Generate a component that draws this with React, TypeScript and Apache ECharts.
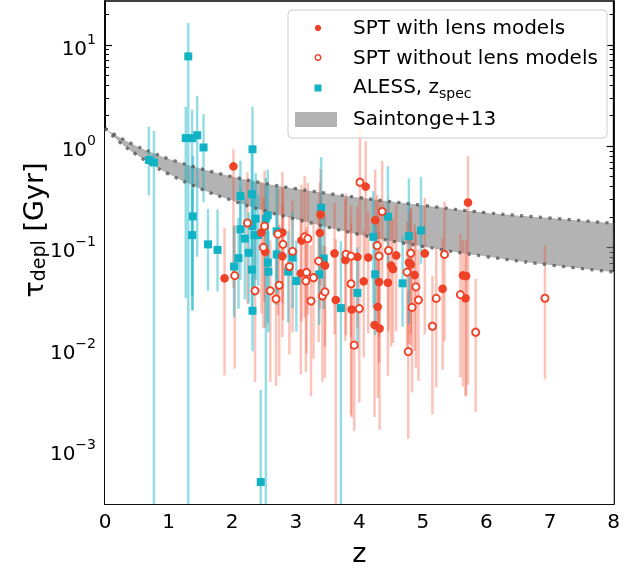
import React, { useEffect, useRef } from "react";
import * as echarts from "echarts";

// ---- Data (redshift z, depletion time tau in Gyr, error bars in dex) ----
const sptLensZ = [2.02, 2.46, 2.52, 2.79, 2.79, 3.09, 3.39, 3.38, 3.08, 1.88, 4.10, 4.25, 3.61, 3.78, 3.97, 4.14, 4.58, 5.03, 3.46, 3.63, 3.88, 4.07, 4.31, 4.45, 4.50, 4.53, 4.78, 4.81, 4.87, 4.29, 4.24, 4.32, 5.71, 5.31, 5.63, 5.68, 5.67];
const sptLensTau = [0.631, 0.140, 0.0902, 0.140, 0.0818, 0.117, 0.211, 0.139, 0.0553, 0.0494, 0.398, 0.185, 0.0871, 0.075, 0.0805, 0.0794, 0.0832, 0.0871, 0.0661, 0.0302, 0.0243, 0.0461, 0.0454, 0.0447, 0.0661, 0.061, 0.0708, 0.0676, 0.0532, 0.0258, 0.0171, 0.0158, 0.277, 0.0389, 0.0528, 0.052, 0.0314];
const sptLensUpDex = [0.17, 0.5, 0.45, 0.6, 0.5, 0.55, 0.45, 0.5, 0.55, 0.5, 0.45, 0.5, 0.5, 0.6, 0.5, 0.45, 0.5, 0.55, 0.5, 0.6, 0.55, 0.5, 0.5, 0.45, 0.5, 0.5, 0.5, 0.55, 0.5, 0.5, 0.5, 0.5, 0.46, 0.5, 0.35, 0.35, 0.45];
const sptLensDownDex = [1.2, 0.8, 0.75, 0.7, 0.8, 0.8, 0.7, 0.75, 1.0, 0.96, 0.7, 0.6, 0.8, 0.8, 0.7, 0.75, 0.75, 0.8, 0.8, 3, 1.07, 0.75, 0.8, 0.92, 0.8, 0.73, 0.8, 0.8, 0.75, 0.9, 0.91, 1.0, 1.8, 0.8, 1.1, 1.18, 0.97];

const sptNoLensZ = [2.24, 2.51, 2.49, 2.72, 2.80, 2.95, 3.14, 3.19, 3.36, 2.90, 3.17, 3.16, 3.28, 2.04, 2.36, 2.60, 2.74, 2.69, 3.24, 3.42, 3.46, 4.01, 4.36, 3.79, 3.87, 4.28, 4.31, 4.46, 4.81, 5.34, 4.75, 4.89, 4.93, 4.83, 4.00, 3.87, 3.92, 4.77, 5.15, 5.21, 5.59, 5.83, 6.92];
const sptNoLensTau = [0.174, 0.162, 0.100, 0.135, 0.107, 0.0912, 0.127, 0.122, 0.0731, 0.0646, 0.0565, 0.0465, 0.0501, 0.0525, 0.0372, 0.0372, 0.0422, 0.0309, 0.0295, 0.0331, 0.0363, 0.44, 0.226, 0.0855, 0.0818, 0.104, 0.0818, 0.0931, 0.0875, 0.0851, 0.0569, 0.0407, 0.0302, 0.0255, 0.0248, 0.0437, 0.0108, 0.00933, 0.0166, 0.0313, 0.0341, 0.0145, 0.0314];
const sptNoLensUpDex = [0.5, 0.55, 0.5, 0.45, 0.55, 0.5, 0.6, 0.55, 0.5, 0.5, 0.45, 0.5, 0.55, 0.5, 0.55, 0.5, 0.6, 0.5, 0.55, 0.5, 0.45, 0.57, 0.5, 0.6, 0.5, 0.5, 0.55, 0.5, 0.45, 0.52, 0.5, 0.55, 0.5, 0.5, 0.5, 0.6, 0.6, 0.6, 0.5, 0.5, 0.6, 0.53, 0.52];
const sptNoLensDownDex = [0.8, 0.75, 0.8, 0.8, 0.75, 0.8, 0.8, 0.75, 0.8, 0.87, 0.8, 0.9, 0.8, 0.92, 0.9, 0.9, 0.9, 0.86, 0.94, 0.85, 0.85, 0.7, 0.7, 0.8, 0.8, 0.8, 0.8, 0.8, 0.8, 0.86, 0.8, 0.8, 0.8, 0.84, 0.93, 1.3, 0.85, 0.86, 0.87, 0.88, 0.82, 0.79, 0.8];

const alessZ = [0.69, 0.77, 1.31, 1.27, 1.37, 1.45, 1.55, 2.32, 1.38, 1.37, 1.62, 1.77, 2.13, 2.31, 2.37, 2.53, 2.56, 2.13, 2.20, 2.32, 2.35, 2.41, 2.70, 2.10, 2.26, 2.03, 2.31, 2.56, 2.57, 2.70, 2.88, 2.95, 3.01, 3.37, 3.40, 2.32, 3.44, 4.45, 4.22, 4.78, 4.97, 3.71, 3.97, 4.25, 4.68, 2.45];
const alessTau = [0.73, 0.69, 7.7, 1.2, 1.2, 1.28, 0.97, 0.93, 0.202, 0.132, 0.107, 0.0944, 0.321, 0.335, 0.192, 0.192, 0.207, 0.151, 0.122, 0.163, 0.132, 0.132, 0.144, 0.0782, 0.0883, 0.0646, 0.0603, 0.0708, 0.0575, 0.0851, 0.0575, 0.0794, 0.0465, 0.0541, 0.246, 0.0236, 0.0776, 0.201, 0.127, 0.129, 0.147, 0.0251, 0.0355, 0.0541, 0.0441, 0.00048];
const alessUpDex = [0.33, 0.31, 0.33, 0.31, 0.28, 0.39, 0.33, 0.42, 0.6, 0.45, 0.35, 0.4, 0.35, 0.4, 0.45, 0.4, 0.45, 0.4, 0.4, 0.45, 0.4, 0.4, 0.45, 0.4, 0.4, 0.4, 0.4, 0.4, 0.4, 0.4, 0.4, 0.45, 0.4, 0.4, 0.5, 0.4, 0.45, 0.5, 0.45, 0.57, 0.53, 0.66, 0.45, 0.5, 0.46, 0.91];
const alessDownDex = [0.35, 5, 5, 1.58, 1.7, 1.2, 0.54, 0.7, 0.93, 0.6, 0.46, 0.41, 0.6, 0.6, 0.6, 5, 0.6, 0.5, 0.6, 0.6, 0.6, 0.5, 0.6, 0.5, 0.5, 0.5, 0.4, 0.6, 0.6, 0.5, 0.5, 0.5, 0.5, 0.5, 0.7, 0.4, 0.5, 0.5, 0.7, 0.87, 0.33, 5, 0.5, 0.6, 0.43, 5];

// Saintonge+13 band (tau in Gyr) read at these redshifts
const bandZ = [0, 0.25, 0.5, 0.75, 1, 1.5, 2, 2.5, 3, 4, 5, 6, 7, 8];
const bandUpper = [1.5, 1.2, 1.0, 0.86, 0.75, 0.6, 0.5, 0.43, 0.38, 0.31, 0.26, 0.22, 0.195, 0.173];
const bandLower = [1.5, 1.07, 0.82, 0.65, 0.53, 0.38, 0.29, 0.23, 0.19, 0.134, 0.102, 0.081, 0.067, 0.057];

// Axis ticks
const xTicks = [0, 1, 2, 3, 4, 5, 6, 7, 8];
const yDecades = [-3, -2, -1, 0, 1];
const Y_MIN = -3.536;
const Y_MAX = 1.434;

const FONT = "DejaVu Sans, sans-serif";
const RED = "#EF4226";
const CYAN = "#12B2C5";

export default function App() {
  const ref = useRef<HTMLDivElement>(null);
  useEffect(() => {
    const chart = echarts.init(ref.current!, null, { renderer: "svg" });
    const lg = Math.log10;
    const pts = (zs: number[], ts: number[]) => zs.map((z, i) => [z, lg(ts[i])]);
    const bars = (zs: number[], ts: number[], up: number[], dn: number[]) =>
      zs.map((z, i) => [z, Math.max(lg(ts[i]) - dn[i], Y_MIN), Math.min(lg(ts[i]) + up[i], Y_MAX)]);
    const minorVals: number[] = [];
    for (let n = -4; n <= 1; n++)
      for (let k = 2; k <= 9; k++) {
        const v = n + Math.log10(k);
        if (v > Y_MIN && v < Y_MAX) minorVals.push(v);
      }
    const errSeries = (data: number[][], color: string) => ({
      type: "custom",
      data,
      silent: true,
      z: 3,
      encode: { x: 0, y: [1, 2] },
      renderItem: (_p: any, api: any) => {
        const a = api.coord([api.value(0), api.value(1)]);
        const b = api.coord([api.value(0), api.value(2)]);
        return {
          type: "line",
          shape: { x1: a[0], y1: a[1], x2: b[0], y2: b[1] },
          style: { stroke: color, lineWidth: 2.5 },
        };
      },
    });
    const tickStyle = { color: "#000", width: 1.2 };
    const yBase = { type: "value", min: Y_MIN, max: Y_MAX, splitLine: { show: false } };
    const lowerBand = bandZ.map((z, i) => [z, lg(bandLower[i])]);
    const upperBand = bandZ.map((z, i) => [z, lg(bandUpper[i])]);
    const sup = (n: number) => (n < 0 ? "\u2212" + -n : String(n));
    const dotted = { color: "rgba(80,80,80,0.75)", width: 3.2, type: [3.2, 6.3] };

    const legendX = 353;
    chart.setOption({
      animation: false,
      grid: { left: 105, right: 5, top: 1, bottom: 64, show: true, borderColor: "#000", borderWidth: 1.6, backgroundColor: "transparent" },
      xAxis: {
        type: "value", min: 0, max: 8, interval: 1,
        axisLine: { onZero: false, lineStyle: { color: "#000", width: 1.6 } },
        axisTick: { inside: true, length: 7, lineStyle: tickStyle, customValues: xTicks },
        axisLabel: { fontSize: 20, color: "#000", fontFamily: FONT, margin: 7, customValues: xTicks },
        splitLine: { show: false },
        name: "z", nameLocation: "middle", nameGap: 35,
        nameTextStyle: { fontSize: 27, fontFamily: FONT, color: "#000" },
      },
      yAxis: [
        {
          ...yBase, position: "left",
          axisLine: { show: true, onZero: false, lineStyle: { color: "#000", width: 1.6 } },
          axisTick: { show: true, inside: true, length: 7, lineStyle: tickStyle, customValues: yDecades },
          axisLabel: {
            customValues: yDecades, margin: 9,
            formatter: (v: number) => `{b|10}{s|${sup(Math.round(v))}}`,
            rich: {
              b: { fontSize: 20, fontFamily: FONT, color: "#000", lineHeight: 26, verticalAlign: "bottom" },
              s: { fontSize: 14, fontFamily: FONT, color: "#000", lineHeight: 14, verticalAlign: "top" },
            },
          },
        },
        {
          ...yBase, position: "left",
          axisLine: { show: false, onZero: false },
          axisTick: { show: true, inside: true, length: 4, lineStyle: { color: "#000", width: 1 }, customValues: minorVals },
          axisLabel: { show: false },
        },
        {
          ...yBase, position: "right",
          axisLine: { show: true, onZero: false, lineStyle: { color: "#000", width: 1.6 } },
          axisTick: { show: true, inside: true, length: 7, lineStyle: tickStyle, customValues: yDecades },
          axisLabel: { show: false },
        },
        {
          ...yBase, position: "right",
          axisLine: { show: false, onZero: false },
          axisTick: { show: true, inside: true, length: 4, lineStyle: { color: "#000", width: 1 }, customValues: minorVals },
          axisLabel: { show: false },
        },
      ],
      series: [
        // band: grey fill below the upper edge, then white fill below the lower edge
        {
          type: "line", name: "Saintonge+13", data: upperBand, smooth: true, symbol: "none", silent: true, z: 1,
          lineStyle: { opacity: 0 }, areaStyle: { color: "rgba(128,128,128,0.6)", opacity: 1, origin: "start" },
        },
        {
          type: "line", data: lowerBand, smooth: true, symbol: "none", silent: true, z: 1.5,
          lineStyle: { opacity: 0 }, areaStyle: { color: "#ffffff", opacity: 1, origin: "start" },
        },
        errSeries(bars(sptLensZ, sptLensTau, sptLensUpDex, sptLensDownDex), "rgba(240,70,45,0.32)"),
        errSeries(bars(sptNoLensZ, sptNoLensTau, sptNoLensUpDex, sptNoLensDownDex), "rgba(240,70,45,0.32)"),
        errSeries(bars(alessZ, alessTau, alessUpDex, alessDownDex), "rgba(20,180,200,0.45)"),
        { type: "line", data: upperBand, smooth: true, symbol: "none", silent: true, z: 4, lineStyle: dotted },
        { type: "line", data: lowerBand, smooth: true, symbol: "none", silent: true, z: 4, lineStyle: dotted },
        {
          type: "scatter", name: "ALESS, z_spec", data: pts(alessZ, alessTau), symbol: "rect", symbolSize: 8, z: 5,
          itemStyle: { color: CYAN, opacity: 1 },
        },
        {
          type: "scatter", name: "SPT with lens models", data: pts(sptLensZ, sptLensTau), symbol: "circle", symbolSize: 8.6, z: 6,
          itemStyle: { color: RED, opacity: 1 },
        },
        {
          type: "scatter", name: "SPT without lens models", data: pts(sptNoLensZ, sptNoLensTau), symbol: "circle", symbolSize: 7.2, z: 7,
          itemStyle: { color: "#fff", borderColor: RED, borderWidth: 1.9, opacity: 1 },
        },
      ],
      graphic: [
        {
          type: "text", x: 31, y: 230, rotation: Math.PI / 2, z: 100,
          style: {
            text: "{t|\u03c4}{d|depl}{t| [Gyr]}",
            align: "center", verticalAlign: "middle",
            rich: {
              t: { fontSize: 27, fontFamily: FONT, fill: "#000", lineHeight: 32, verticalAlign: "bottom" },
              d: { fontSize: 19, fontFamily: FONT, fill: "#000", lineHeight: 17, verticalAlign: "bottom" },
            },
          },
        },
        {
          type: "group", z: 100,
          children: [
            { type: "rect", z: 100, shape: { x: 288, y: 10, width: 319, height: 128, r: 4 }, style: { fill: "rgba(255,255,255,0.8)", stroke: "#cccccc", lineWidth: 1 } },
            { type: "circle", z: 101, shape: { cx: 318, cy: 28, r: 3.2 }, style: { fill: RED } },
            { type: "circle", z: 101, shape: { cx: 318, cy: 57.5, r: 2.8 }, style: { fill: "#fff", stroke: RED, lineWidth: 1.5 } },
            { type: "rect", z: 101, shape: { x: 314.5, y: 84.5, width: 7, height: 7 }, style: { fill: CYAN } },
            { type: "rect", z: 101, shape: { x: 295, y: 112, width: 42, height: 15 }, style: { fill: "#b3b3b3" } },
            { type: "text", z: 101, x: legendX, y: 27, style: { text: "SPT with lens models", fontSize: 20, fontFamily: FONT, fill: "#000", verticalAlign: "middle" } },
            { type: "text", z: 101, x: legendX, y: 57, style: { text: "SPT without lens models", fontSize: 20, fontFamily: FONT, fill: "#000", verticalAlign: "middle" } },
            { type: "text", z: 101, x: legendX, y: 86, style: { text: "ALESS, z", fontSize: 20, fontFamily: FONT, fill: "#000", verticalAlign: "middle" } },
            { type: "text", z: 101, x: legendX + 86, y: 93, style: { text: "spec", fontSize: 14, fontFamily: FONT, fill: "#000", verticalAlign: "middle" } },
            { type: "text", z: 101, x: legendX, y: 118, style: { text: "Saintonge+13", fontSize: 20, fontFamily: FONT, fill: "#000", verticalAlign: "middle" } },
          ],
        },
      ],
    });
    return () => chart.dispose();
  }, []);
  return <div ref={ref} style={{ position: "fixed", left: 0, top: 0, width: 623, height: 571 }} />;
}
